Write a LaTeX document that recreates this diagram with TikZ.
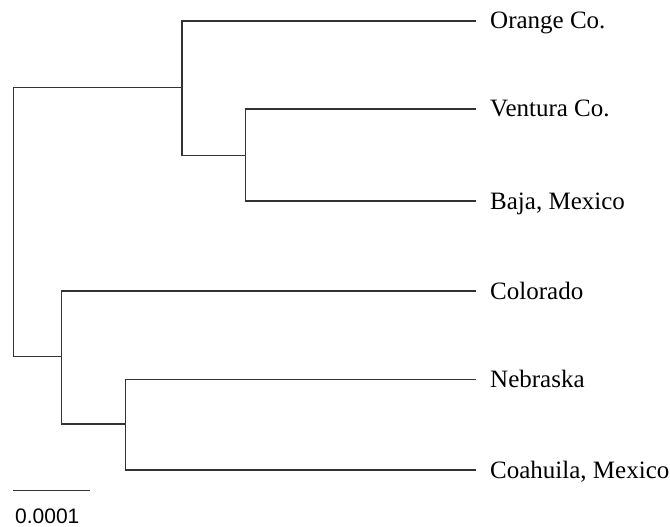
\documentclass[tikz,border=0pt]{standalone}
\usepackage{fontspec}
\setmainfont{Liberation Serif}
\newfontfamily\scalefont{Liberation Sans}
\begin{document}
\begin{tikzpicture}[x=1pt,y=-1pt,
  branch/.style={draw=black!80,line width=1.2pt},
  leaflabel/.style={anchor=base west,inner sep=0pt,font=\fontsize{25}{29}\selectfont},
  scalelabel/.style={anchor=base west,inner sep=0pt,font=\scalefont\fontsize{21}{25}\selectfont}]
\useasboundingbox (0,0) rectangle (670,527);
% leaf tips
\coordinate (l1) at (476,21);
\coordinate (l2) at (476,109);
\coordinate (l3) at (476,201);
\coordinate (l4) at (476,291);
\coordinate (l5) at (476,379.5);
\coordinate (l6) at (476,470);
% internal nodes
\coordinate (nB) at (245.7,155.3);
\coordinate (nA) at (182,87.5);
\coordinate (nD) at (125.3,424);
\coordinate (nC) at (61.7,356.7);
\coordinate (nR) at (13.3,222);
% branches
\draw[branch] (l2) -| (nB) |- (l3);
\draw[branch] (l1) -| (nA) |- (nB);
\draw[branch] (l5) -| (nD) |- (l6);
\draw[branch] (l4) -| (nC) |- (nD);
\draw[branch] (nA) -| (nR) |- (nC);
% labels
\node[leaflabel] (t1) at (490,29) {Orange Co.};
\node[leaflabel] (t2) at (490,117) {Ventura Co.};
\node[leaflabel] (t3) at (490,209) {Baja, Mexico};
\node[leaflabel] (t4) at (490,299) {Colorado};
\node[leaflabel] (t5) at (490,387.5) {Nebraska};
\node[leaflabel] (t6) at (490,478) {Coahuila, Mexico};
% scale bar
\coordinate (s1) at (13,490.7);
\coordinate (s2) at (90,490.7);
\draw[branch] (s1) -- (s2);
\node[scalelabel] (sl) at (15,523) {0.0001};
\end{tikzpicture}
\end{document}
